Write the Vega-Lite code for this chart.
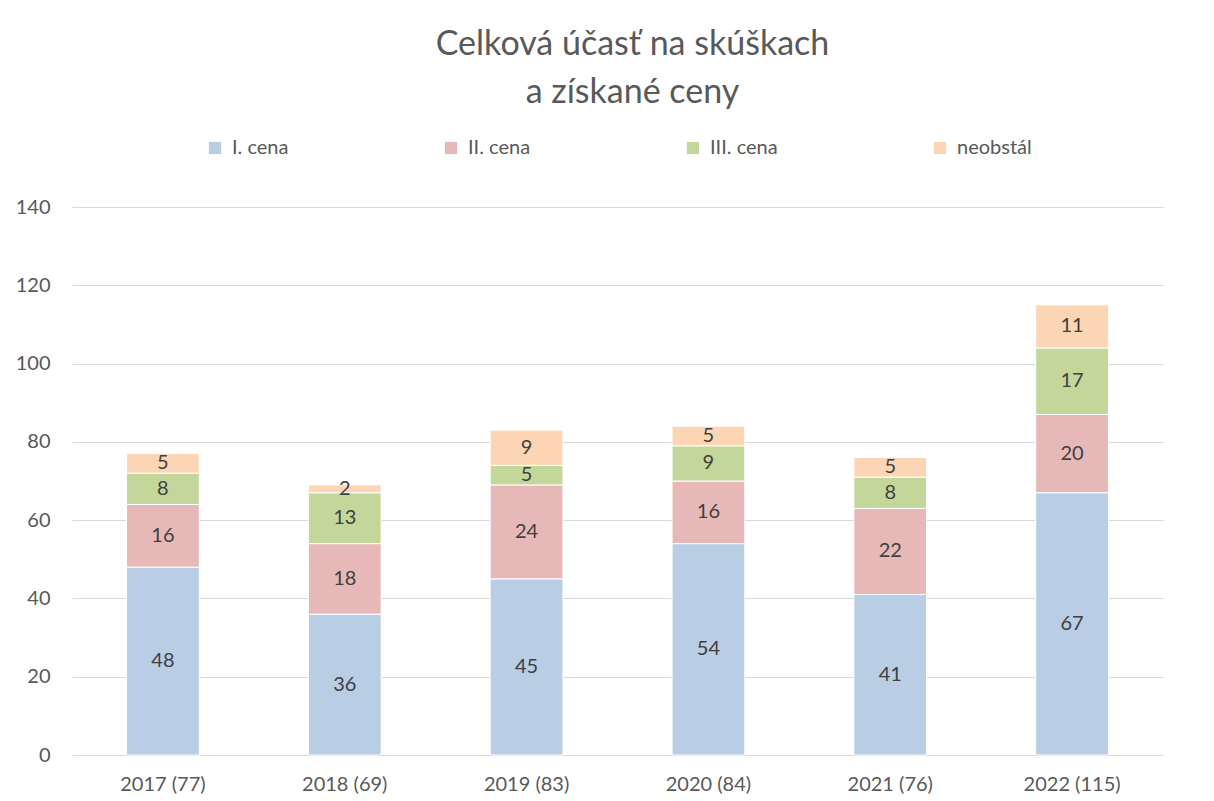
{
  "$schema": "https://vega.github.io/schema/vega-lite/v6.json",
  "width": 1091,
  "height": 548,
  "autosize": {"type": "none"},
  "padding": {"left": 72, "top": 207, "right": 51, "bottom": 46},
  "background": "white",
  "title": {
    "text": ["Celková účasť na skúškach", "a získané ceny"],
    "font": "Lato",
    "fontSize": 34,
    "fontWeight": "normal",
    "color": "#595959",
    "lineHeight": 48,
    "anchor": "middle",
    "frame": "group",
    "offset": 28,
    "dx": 15
  },
  "config": {
    "font": "Lato",
    "view": {"stroke": null}
  },
  "data": {
    "values": [
      {"rok": "2017 (77)", "cena": "I. cena", "pocet": 48},
      {"rok": "2017 (77)", "cena": "II. cena", "pocet": 16},
      {"rok": "2017 (77)", "cena": "III. cena", "pocet": 8},
      {"rok": "2017 (77)", "cena": "neobstál", "pocet": 5},
      {"rok": "2018 (69)", "cena": "I. cena", "pocet": 36},
      {"rok": "2018 (69)", "cena": "II. cena", "pocet": 18},
      {"rok": "2018 (69)", "cena": "III. cena", "pocet": 13},
      {"rok": "2018 (69)", "cena": "neobstál", "pocet": 2},
      {"rok": "2019 (83)", "cena": "I. cena", "pocet": 45},
      {"rok": "2019 (83)", "cena": "II. cena", "pocet": 24},
      {"rok": "2019 (83)", "cena": "III. cena", "pocet": 5},
      {"rok": "2019 (83)", "cena": "neobstál", "pocet": 9},
      {"rok": "2020 (84)", "cena": "I. cena", "pocet": 54},
      {"rok": "2020 (84)", "cena": "II. cena", "pocet": 16},
      {"rok": "2020 (84)", "cena": "III. cena", "pocet": 9},
      {"rok": "2020 (84)", "cena": "neobstál", "pocet": 5},
      {"rok": "2021 (76)", "cena": "I. cena", "pocet": 41},
      {"rok": "2021 (76)", "cena": "II. cena", "pocet": 22},
      {"rok": "2021 (76)", "cena": "III. cena", "pocet": 8},
      {"rok": "2021 (76)", "cena": "neobstál", "pocet": 5},
      {"rok": "2022 (115)", "cena": "I. cena", "pocet": 67},
      {"rok": "2022 (115)", "cena": "II. cena", "pocet": 20},
      {"rok": "2022 (115)", "cena": "III. cena", "pocet": 17},
      {"rok": "2022 (115)", "cena": "neobstál", "pocet": 11}
    ]
  },
  "transform": [
    {"stack": "pocet", "groupby": ["rok"], "sort": [{"field": "cena", "order": "ascending"}], "as": ["y0", "y1"]},
    {"calculate": "(datum.y0 + datum.y1) / 2", "as": "ymid"}
  ],
  "encoding": {
    "x": {
      "field": "rok",
      "type": "nominal",
      "sort": null,
      "scale": {"paddingInner": 0.6, "paddingOuter": 0.3},
      "axis": {
        "title": null,
        "labelAngle": 0,
        "labelFontSize": 20,
        "labelColor": "#595959",
        "labelPadding": 19,
        "ticks": false,
        "domain": true,
        "domainColor": "#d9d9d9",
        "domainWidth": 1
      }
    }
  },
  "layer": [
    {
      "mark": {"type": "bar", "stroke": "white", "strokeWidth": 1},
      "encoding": {
        "y": {
          "field": "y0",
          "type": "quantitative",
          "scale": {"domain": [0, 140]},
          "axis": {
            "title": null,
            "values": [0, 20, 40, 60, 80, 100, 120, 140],
            "grid": true,
            "gridColor": "#d9d9d9",
            "gridWidth": 1,
            "domain": false,
            "ticks": false,
            "labelFontSize": 20,
            "labelColor": "#595959",
            "labelPadding": 22
          }
        },
        "y2": {"field": "y1"},
        "color": {
          "field": "cena",
          "type": "nominal",
          "scale": {
            "domain": ["I. cena", "II. cena", "III. cena", "neobstál"],
            "range": ["#b9cde5", "#e6b9b8", "#c4d79b", "#fcd5b5"]
          },
          "legend": {
            "title": null,
            "orient": "none",
            "direction": "horizontal",
            "legendX": 133,
            "legendY": -69,
            "symbolType": "square",
            "symbolSize": 150,
            "symbolStrokeWidth": 0,
            "labelFontSize": 20,
            "labelColor": "#595959",
            "columnPadding": 152,
            "labelOffset": 7,
            "padding": 0
          }
        }
      }
    },
    {
      "mark": {"type": "text", "fontSize": 20, "color": "#404040", "baseline": "middle"},
      "encoding": {
        "y": {"field": "ymid", "type": "quantitative"},
        "text": {"field": "pocet", "type": "quantitative"}
      }
    }
  ]
}
